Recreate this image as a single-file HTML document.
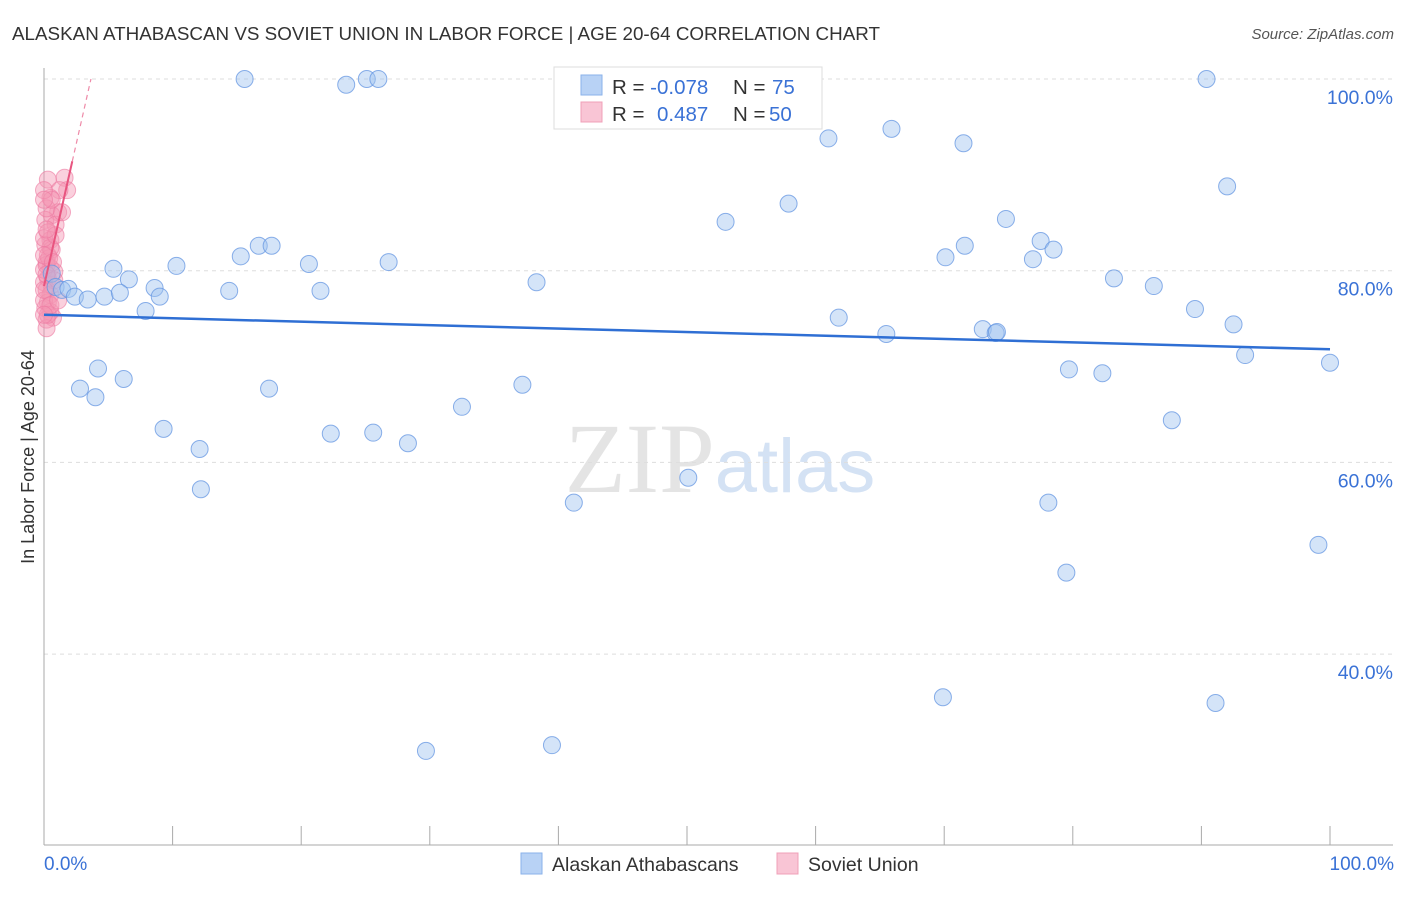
<!DOCTYPE html>
<html><head><meta charset="utf-8"><style>
body{margin:0;background:#fff;font-family:"Liberation Sans",sans-serif}
svg text{font-family:"Liberation Sans",sans-serif}
</style></head><body>
<svg id="chart" width="1406" height="892">
<text x="12" y="40" font-size="18" fill="#333" textLength="868" lengthAdjust="spacingAndGlyphs">ALASKAN ATHABASCAN VS SOVIET UNION IN LABOR FORCE | AGE 20-64 CORRELATION CHART</text>
<text x="1394" y="39" font-size="15" fill="#555" text-anchor="end" font-style="italic">Source: ZipAtlas.com</text>
<text x="720" y="492" font-size="100" fill="#e4e4e4" text-anchor="middle" font-family="Liberation Serif"><tspan font-family="Liberation Serif">ZIP</tspan><tspan fill="#d4e2f4" font-family="Liberation Sans" font-size="76">atlas</tspan></text>
<g id="grid"></g>
<g id="axes"></g>
<g id="pts"></g>
<g id="lines"></g>
<text transform="translate(34,457) rotate(-90)" font-size="18" fill="#333" text-anchor="middle">In Labor Force | Age 20-64</text>
<text x="44" y="870" font-size="19" fill="#3a72d6">0.0%</text>
<text x="1394" y="870" font-size="19" fill="#3a72d6" text-anchor="end">100.0%</text>
<g>
<rect x="554" y="67" width="268" height="62" fill="#fff" stroke="#ddd"/>
<rect x="581" y="75" width="21" height="20" fill="#b8d2f5" stroke="#8ab2ea"/>
<rect x="581" y="102" width="21" height="20" fill="#f9c5d5" stroke="#f0a0b8"/>
<text x="612" y="94" font-size="20.5" fill="#333">R = <tspan fill="#3a72d6">-0.078</tspan><tspan x="733">N = </tspan><tspan x="772" fill="#3a72d6">75</tspan></text>
<text x="612" y="121" font-size="20.5" fill="#333">R = <tspan x="657" fill="#3a72d6">0.487</tspan><tspan x="733">N = </tspan><tspan x="769" fill="#3a72d6">50</tspan></text>
</g>
<g>
<rect x="521" y="853" width="21" height="21" fill="#b8d2f5" stroke="#8ab2ea"/>
<text x="552" y="871" font-size="19.5" fill="#333">Alaskan Athabascans</text>
<rect x="777" y="853" width="21" height="21" fill="#f9c5d5" stroke="#f0a0b8"/>
<text x="808" y="871" font-size="19.5" fill="#333">Soviet Union</text>
</g>
</svg>
<script>
const yTicks=[100,80,60,40];
const yTickLabels=["100.0%","80.0%","60.0%","40.0%"];
const xTicks=[0,10,20,30,40,50,60,70,80,90,100];
const blueX=[15.6,23.5,25.1,26.0,90.4,61.0,65.9,71.5,92.0,53.0,57.9,74.8,15.3,16.7,17.7,20.6,26.8,70.1,71.6,77.5,78.5,76.9,5.4,10.3,6.6,8.6,9.0,14.4,21.5,38.3,83.2,86.3,89.5,92.5,0.6,0.9,1.4,1.9,2.4,3.4,4.7,5.9,7.9,61.8,65.5,73.0,74.0,74.1,93.4,100,4.2,6.2,2.8,4.0,17.5,37.2,79.7,82.3,32.5,9.3,22.3,25.6,28.3,12.1,87.7,12.2,41.2,50.1,78.1,99.1,79.5,69.9,91.1,29.7,39.5];
const blueY=[100,99.4,100,100,100,93.8,94.8,93.3,88.8,85.1,87.0,85.4,81.5,82.6,82.6,80.7,80.9,81.4,82.6,83.1,82.2,81.2,80.2,80.5,79.1,78.2,77.3,77.9,77.9,78.8,79.2,78.4,76.0,74.4,79.7,78.3,78.0,78.1,77.3,77.0,77.3,77.7,75.8,75.1,73.4,73.9,73.5,73.6,71.2,70.4,69.8,68.7,67.7,66.8,67.7,68.1,69.7,69.3,65.8,63.5,63.0,63.1,62.0,61.4,64.4,57.2,55.8,58.4,55.8,51.4,48.5,35.5,34.9,29.9,30.5];
const pinkX=[0.3,1.6,1.8,1.2,0.5,1.1,0.6,0.1,0.9,0.3,0.5,0.1,0.6,0.3,0.2,0.5,0.8,0.3,0,0.6,0.2,0.5,0.3,0.1,0.5,0.7,0.2,0.2,0,0.2,0.4,0.5,0,0.9,0.2,0.6,1.4,0,0.3,0.8,0,0,0.2,0,0.7,0,0.5,0,1.1,0.2];
const pinkY=[89.5,89.7,88.4,88.4,87.6,86.1,85.8,85.3,84.8,84.0,83.2,82.7,82.2,81.6,80.9,80.3,79.9,79.2,78.8,78.5,78.0,77.5,76.7,76.1,75.7,75.1,74.9,74.0,80.1,80.6,81.3,82.4,83.4,83.7,86.5,87.4,86.1,76.9,75.4,79.0,88.4,87.4,84.3,81.6,80.9,78.0,76.4,75.4,76.9,79.6];
const blueTrend=[75.4,71.8];
const pinkTrend=[78.4,100];
const pinkSolidEnd=2.2;

const NS="http://www.w3.org/2000/svg";
const sx=v=>44+v*12.86;
const sy=v=>79+(100-v)*9.585;
function mk(tag,attrs,parent){const e=document.createElementNS(NS,tag);for(const k in attrs)e.setAttribute(k,attrs[k]);document.getElementById(parent).appendChild(e);return e;}
yTicks.forEach((t,i)=>{
  const l=mk('line',{x1:44,x2:1393,y1:sy(t),y2:sy(t),stroke:'#ddd','stroke-dasharray':'4,4'},'grid');
  
  
  const tx=mk('text',{x:1393,y:sy(t)+25,'font-size':19.5,fill:'#3a72d6','text-anchor':'end'},'grid');
  tx.textContent=yTickLabels[i];
  
  
});
const ya=mk('line',{x1:44,x2:44,y1:68,y2:845,stroke:'#aaa'},'axes');


const xa=mk('line',{x1:44,x2:1393,y1:845,y2:845,stroke:'#aaa'},'axes');


xTicks.forEach(t=>{
  const l=mk('line',{x1:sx(t),x2:sx(t),y1:826,y2:845,stroke:'#aaa'},'axes');
  
  
});
pinkX.forEach((x,i)=>{
  const c=mk('circle',{cx:sx(x),cy:sy(pinkY[i]),r:8.5,fill:'rgba(244,150,180,0.45)',stroke:'rgba(236,120,160,0.6)'},'pts');
  
  
});
blueX.forEach((x,i)=>{
  const c=mk('circle',{cx:sx(x),cy:sy(blueY[i]),r:8.5,fill:'rgba(160,196,240,0.45)',stroke:'rgba(100,150,225,0.75)'},'pts');
  
  
});
const bl=mk('line',{x1:sx(0),y1:sy(blueTrend[0]),x2:sx(100),y2:sy(blueTrend[1]),stroke:'#2f6fd4','stroke-width':2.5},'lines');


const pyAt=x=>pinkTrend[0]+(pinkTrend[1]-pinkTrend[0])*x/3.65;
const ps=mk('line',{x1:sx(0),y1:sy(pinkTrend[0]),x2:sx(pinkSolidEnd),y2:sy(pyAt(pinkSolidEnd)),stroke:'#e8547f','stroke-width':2},'lines');


const pd=mk('line',{x1:sx(pinkSolidEnd),y1:sy(pyAt(pinkSolidEnd)),x2:sx(3.65),y2:sy(pinkTrend[1]),stroke:'#ee8aa8','stroke-width':1.2,'stroke-dasharray':'5,4'},'lines');


</script>
</body></html>
